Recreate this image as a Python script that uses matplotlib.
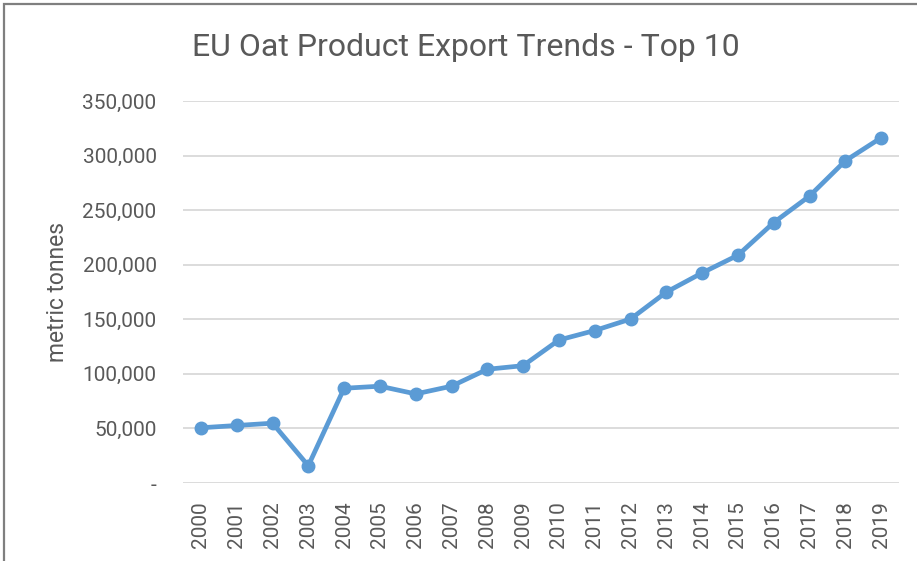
import matplotlib.pyplot as plt
import matplotlib as mpl
from matplotlib.patches import Rectangle
from matplotlib.ticker import FuncFormatter

mpl.rcParams['font.family'] = ['Roboto', 'DejaVu Sans']

years = [str(y) for y in range(2000, 2020)]
exports = [50600, 52700, 54800, 15800, 86800, 88700, 81600, 88700, 104200, 107500,
           131000, 139700, 150200, 174900, 192500, 208700, 238600, 262900, 295200, 316300]
yticks = [0, 50000, 100000, 150000, 200000, 250000, 300000, 350000]

text_color = '#595959'
line_color = '#5B9BD5'

fig = plt.figure(figsize=(9.17, 5.61), dpi=100)
ax = fig.add_axes([183/917, 1 - 483/561, (899-183)/917, (483-101)/561])

ax.plot(range(len(years)), exports, color=line_color, linewidth=3.4,
        marker='o', markersize=9, solid_capstyle='round', zorder=3)

ax.set_xlim(-0.5, len(years) - 0.5)
ax.set_ylim(0, 350000)
ax.set_yticks(yticks)
ax.yaxis.set_major_formatter(FuncFormatter(lambda v, p: '-' if v == 0 else f'{int(v):,}'))
ax.set_xticks(range(len(years)), years, rotation=90)

ax.grid(axis='y', color='#D9D9D9', linewidth=1.3)
ax.set_axisbelow(True)
for s in ax.spines.values():
    s.set_visible(False)
ax.tick_params(axis='both', length=0, colors=text_color, labelsize=15, width=0)
ax.tick_params(axis='y', pad=19)
ax.tick_params(axis='x', pad=13)

ax.set_ylabel('metric tonnes', color=text_color, fontsize=16.5, labelpad=10)

fig.text(466/917, 1 - 48/561, 'EU Oat Product Export Trends - Top 10',
         ha='center', va='center', fontsize=23, color=text_color)

# chart frame (right and bottom edges are cut off in the original)
fig.patches.append(Rectangle((4/917, -0.1), 1.2, 1 - 4/561 + 0.1, transform=fig.transFigure,
                             fill=False, edgecolor='#7F7F7F', linewidth=1.6))

plt.savefig('out.png', dpi=100)
